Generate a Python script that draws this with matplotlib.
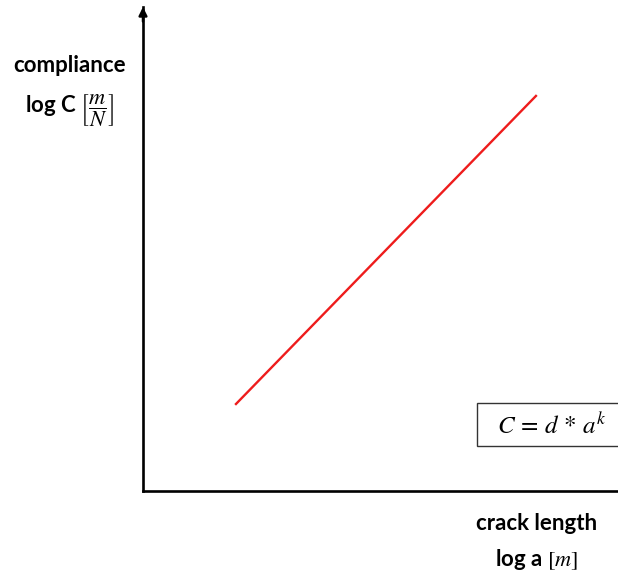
import matplotlib.pyplot as plt
from matplotlib.patches import Rectangle

plt.rcParams['font.family'] = ['Lato', 'DejaVu Sans']
plt.rcParams['mathtext.fontset'] = 'stix'

# log crack length vs log compliance (arbitrary log units)
log_a = [1.94, 8.29]
log_c = [1.78, 8.18]

fig = plt.figure(figsize=(6.18, 5.72), dpi=100)
ax = fig.add_axes([143 / 618, 81 / 572, 1 - 143 / 618, 484 / 572])
ax.set_xlim(0, 10)
ax.set_ylim(0, 10)

ax.plot(log_a, log_c, color='#ee1c1c', lw=1.7, solid_capstyle='butt')

for side in ['top', 'right']:
    ax.spines[side].set_visible(False)
for side in ['left', 'bottom']:
    ax.spines[side].set_linewidth(1.9)
ax.set_xticks([])
ax.set_yticks([])

# arrow head on the vertical axis
ax.annotate('', xy=(0, 1.0), xytext=(0, 0.97), xycoords='axes fraction',
            arrowprops=dict(arrowstyle='-|>', color='black', lw=1.8,
                            mutation_scale=12, shrinkA=0, shrinkB=0),
            annotation_clip=False)

fig.text(70 / 618, 1 - 66 / 572, 'compliance', ha='center', va='center',
         fontsize=16, fontweight='bold')
fig.text(70 / 618, 1 - 110 / 572, r'log C $\left[\dfrac{m}{N}\right]$',
         ha='center', va='center', fontsize=16, fontweight='bold')

fig.text(537 / 618, 1 - 523 / 572, 'crack length', ha='center', va='center',
         fontsize=16, fontweight='bold')
fig.text(537 / 618, 1 - 559 / 572, r'log a $\left[m\right]$', ha='center',
         va='center', fontsize=16, fontweight='bold')

# formula box, running off the right edge
fig.patches.append(Rectangle((477 / 618, 1 - 446 / 572), 160 / 618, 43 / 572,
                             transform=fig.transFigure, fc='white',
                             ec='#333333', lw=1.0))
fig.text(497 / 618, 1 - 425 / 572, r'$C\,=\,d\,*\,a^k$', ha='left',
         va='center', fontsize=18)

fig.savefig('out.png', dpi=100)
